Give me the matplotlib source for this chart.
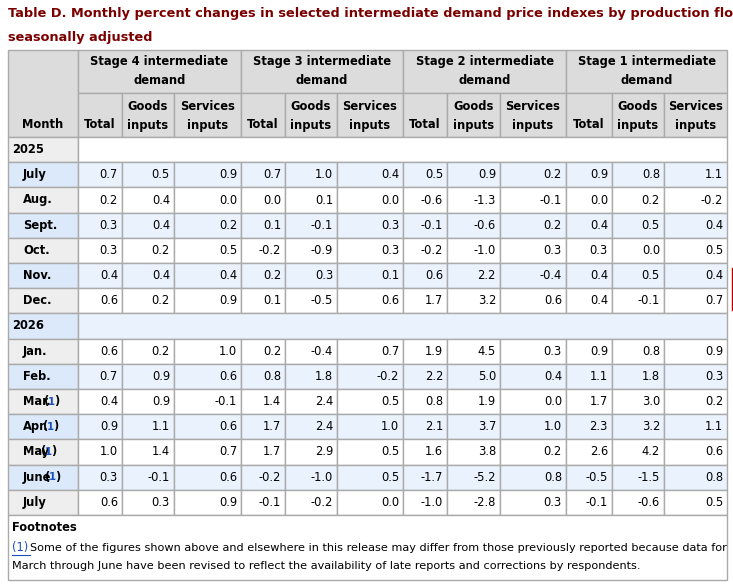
import matplotlib.pyplot as plt
from matplotlib.patches import Rectangle

months = ["July", "Aug.", "Sept.", "Oct.", "Nov.", "Dec.",
          "Jan.", "Feb.", "Mar.", "Apr.", "May", "June", "July"]
footnoted = [False] * 8 + [True] * 4 + [False]
years = ["2025", "2026"]
stages = ["Stage 4 intermediate\ndemand", "Stage 3 intermediate\ndemand",
          "Stage 2 intermediate\ndemand", "Stage 1 intermediate\ndemand"]
sub_cols = ["Total", "Goods\ninputs", "Services\ninputs"]

values = [
    [0.7, 0.5, 0.9, 0.7, 1.0, 0.4, 0.5, 0.9, 0.2, 0.9, 0.8, 1.1],
    [0.2, 0.4, 0.0, 0.0, 0.1, 0.0, -0.6, -1.3, -0.1, 0.0, 0.2, -0.2],
    [0.3, 0.4, 0.2, 0.1, -0.1, 0.3, -0.1, -0.6, 0.2, 0.4, 0.5, 0.4],
    [0.3, 0.2, 0.5, -0.2, -0.9, 0.3, -0.2, -1.0, 0.3, 0.3, 0.0, 0.5],
    [0.4, 0.4, 0.4, 0.2, 0.3, 0.1, 0.6, 2.2, -0.4, 0.4, 0.5, 0.4],
    [0.6, 0.2, 0.9, 0.1, -0.5, 0.6, 1.7, 3.2, 0.6, 0.4, -0.1, 0.7],
    [0.6, 0.2, 1.0, 0.2, -0.4, 0.7, 1.9, 4.5, 0.3, 0.9, 0.8, 0.9],
    [0.7, 0.9, 0.6, 0.8, 1.8, -0.2, 2.2, 5.0, 0.4, 1.1, 1.8, 0.3],
    [0.4, 0.9, -0.1, 1.4, 2.4, 0.5, 0.8, 1.9, 0.0, 1.7, 3.0, 0.2],
    [0.9, 1.1, 0.6, 1.7, 2.4, 1.0, 2.1, 3.7, 1.0, 2.3, 3.2, 1.1],
    [1.0, 1.4, 0.7, 1.7, 2.9, 0.5, 1.6, 3.8, 0.2, 2.6, 4.2, 0.6],
    [0.3, -0.1, 0.6, -0.2, -1.0, 0.5, -1.7, -5.2, 0.8, -0.5, -1.5, 0.8],
    [0.6, 0.3, 0.9, -0.1, -0.2, 0.0, -1.0, -2.8, 0.3, -0.1, -0.6, 0.5],
]
# x offset of the "(1)" marker after each footnoted month label
mark_dx = {"Mar.": 36, "Apr.": 35, "May": 33, "June": 37}

# layout in pixels
W, H = 733, 587
col_x = [8, 78, 122, 174, 241, 285, 337, 403, 447, 500, 566, 612, 664, 727]
top, h1, h2 = 50, 93, 137
row_h = 25.2
grid = "#aaaaaa"
head_bg = "#dcdcdc"
month_bg = "#eeeeee"
stripe = "#eaf2fd"
stripe_m = "#dbe9fb"
title_c = "#7a0000"
link_c = "#1a4fbf"
fs = 8.3

fig = plt.figure(figsize=(W / 100, H / 100), dpi=100)
ax = fig.add_axes([0, 0, 1, 1])
ax.set_xlim(0, W)
ax.set_ylim(H, 0)
ax.axis("off")


def cell(x0, y0, x1, y1, fc):
    ax.add_patch(Rectangle((x0, y0), x1 - x0, y1 - y0, fc=fc, ec=grid, lw=1))


ax.text(8, 13, "Table D. Monthly percent changes in selected intermediate demand price indexes by production flow,",
        fontsize=9.3, fontweight="bold", color=title_c, va="center")
ax.text(8, 37, "seasonally adjusted", fontsize=9.3, fontweight="bold", color=title_c, va="center")

# header
cell(col_x[0], top, col_x[1], h2, head_bg)
ax.text(col_x[0] + 35, h2 - 12, "Month", fontsize=fs, fontweight="bold", ha="center", va="center")
for s in range(4):
    xa, xb = col_x[1 + 3 * s], col_x[4 + 3 * s]
    cell(xa, top, xb, h1, head_bg)
    ax.text((xa + xb) / 2, (top + h1) / 2, stages[s], fontsize=fs, fontweight="bold",
            ha="center", va="center", linespacing=1.6)
    for j in range(3):
        a, b = col_x[1 + 3 * s + j], col_x[2 + 3 * s + j]
        cell(a, h1, b, h2, head_bg)
        if j == 0:
            ax.text((a + b) / 2, h2 - 12, sub_cols[j], fontsize=fs, fontweight="bold", ha="center", va="center")
        else:
            ax.text((a + b) / 2, (h1 + h2) / 2 + 1, sub_cols[j], fontsize=fs, fontweight="bold",
                    ha="center", va="center", linespacing=1.6)

# body rows
y = h2
r = 0
mi = 0
for yi, yr in enumerate(years):
    striped = r % 2 == 1
    cell(col_x[0], y, col_x[1], y + row_h, stripe_m if striped else month_bg)
    cell(col_x[1], y, col_x[-1], y + row_h, stripe if striped else "white")
    ax.text(col_x[0] + 4, y + row_h / 2, yr, fontsize=fs, fontweight="bold", va="center")
    y += row_h
    r += 1
    count = 6 if yi == 0 else 7
    for _ in range(count):
        striped = r % 2 == 1
        cell(col_x[0], y, col_x[1], y + row_h, stripe_m if striped else month_bg)
        ax.text(col_x[0] + 15, y + row_h / 2, months[mi], fontsize=fs, fontweight="bold", va="center")
        if footnoted[mi]:
            mx = col_x[0] + mark_dx[months[mi]]
            ax.text(mx, y + row_h / 2, "(", fontsize=fs, fontweight="bold", va="center")
            ax.text(mx + 4, y + row_h / 2, "1", fontsize=fs - 1, fontweight="bold",
                    color=link_c, va="center")
            ax.text(mx + 10, y + row_h / 2, ")", fontsize=fs, fontweight="bold", va="center")
        for c in range(12):
            a, b = col_x[1 + c], col_x[2 + c]
            cell(a, y, b, y + row_h, stripe if striped else "white")
            ax.text(b - 4, y + row_h / 2, f"{values[mi][c]:.1f}", fontsize=fs, ha="right", va="center")
        y += row_h
        r += 1
        mi += 1

# footnotes
cell(col_x[0], y, col_x[-1], 580, "white")
ax.text(12, y + 13, "Footnotes", fontsize=fs, fontweight="bold", va="center")
ax.text(12, y + 33, "(1)", fontsize=fs, color=link_c, va="center")
ax.plot([12, 30], [y + 40, y + 40], color=link_c, lw=0.8)
ax.text(30, y + 33, "Some of the figures shown above and elsewhere in this release may differ from those previously reported because data for",
        fontsize=8.1, va="center")
ax.text(12, y + 51, "March through June have been revised to reflect the availability of late reports and corrections by respondents.",
        fontsize=8.1, va="center")

ax.plot([732, 732], [268, 310], color="#c00000", lw=1)

fig.savefig("out.png", dpi=100)
